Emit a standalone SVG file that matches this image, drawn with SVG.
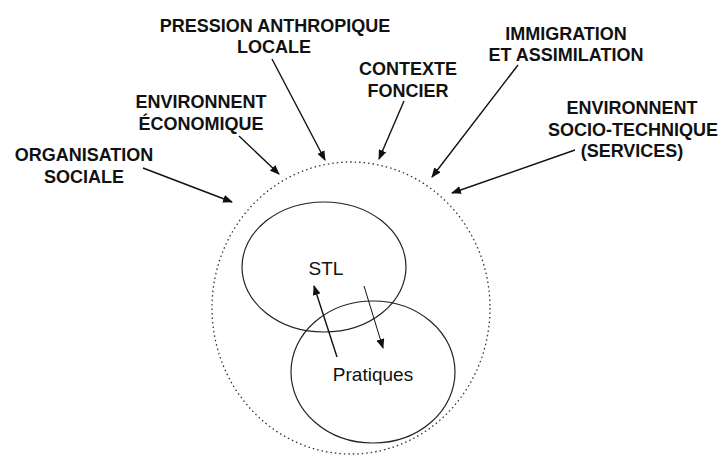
<svg xmlns="http://www.w3.org/2000/svg" width="723" height="455" viewBox="0 0 723 455">
<style>
.lbl{font-family:"Liberation Sans",Arial,sans-serif;font-weight:bold;font-size:18px;fill:#111;text-anchor:middle}
.in{font-family:"Liberation Sans",Arial,sans-serif;font-size:19px;fill:#111;text-anchor:middle}
.arr{stroke:#111;stroke-width:1.4;fill:none;marker-end:url(#ah)}
.ell{fill:none;stroke:#222;stroke-width:1.2}
</style>
<defs>
<marker id="ah" markerUnits="userSpaceOnUse" markerWidth="10" markerHeight="8" refX="9" refY="4" orient="auto">
<path d="M0,0 L10,4 L0,8 z" fill="#111"/>
</marker>
</defs>
<rect width="723" height="455" fill="#fff"/>
<g id="systeme">
<ellipse cx="351" cy="308" rx="139" ry="146" fill="none" stroke="#333" stroke-width="1.3" stroke-dasharray="1.5 3"/>
</g>
<g id="stl">
<ellipse class="ell" cx="324" cy="267" rx="82" ry="65"/>
<text class="in" x="326" y="275">STL</text>
</g>
<g id="pratiques">
<ellipse class="ell" cx="373" cy="372" rx="82" ry="71"/>
<text class="in" x="373" y="381">Pratiques</text>
</g>
<g id="organisation-sociale">
<text class="lbl" x="84" y="161">ORGANISATION</text>
<text class="lbl" x="84" y="183">SOCIALE</text>
</g>
<g id="environnent-economique">
<text class="lbl" x="201" y="108">ENVIRONNENT</text>
<text class="lbl" x="201" y="130">ÉCONOMIQUE</text>
</g>
<g id="pression-anthropique">
<text class="lbl" x="275" y="32">PRESSION ANTHROPIQUE</text>
<text class="lbl" x="274" y="53">LOCALE</text>
</g>
<g id="contexte-foncier">
<text class="lbl" x="408" y="75">CONTEXTE</text>
<text class="lbl" x="408" y="97">FONCIER</text>
</g>
<g id="immigration">
<text class="lbl" x="566" y="40">IMMIGRATION</text>
<text class="lbl" x="566" y="61">ET ASSIMILATION</text>
</g>
<g id="environnent-socio-technique">
<text class="lbl" x="632" y="114">ENVIRONNENT</text>
<text class="lbl" x="633" y="136">SOCIO-TECHNIQUE</text>
<text class="lbl" x="632" y="157">(SERVICES)</text>
</g>
<g id="connectors">
<line class="arr" x1="143" y1="168" x2="232" y2="202"/>
<line class="arr" x1="239" y1="136" x2="279" y2="174"/>
<line class="arr" x1="272" y1="59" x2="325" y2="160"/>
<line class="arr" x1="404" y1="101" x2="379" y2="159"/>
<line class="arr" x1="518" y1="65" x2="432" y2="177"/>
<line class="arr" x1="575" y1="150" x2="452" y2="193"/>
<line class="arr" x1="337" y1="357" x2="314" y2="286"/>
<line class="arr" x1="364" y1="286" x2="383" y2="348" style="stroke-width:1"/>
</g>
</svg>
